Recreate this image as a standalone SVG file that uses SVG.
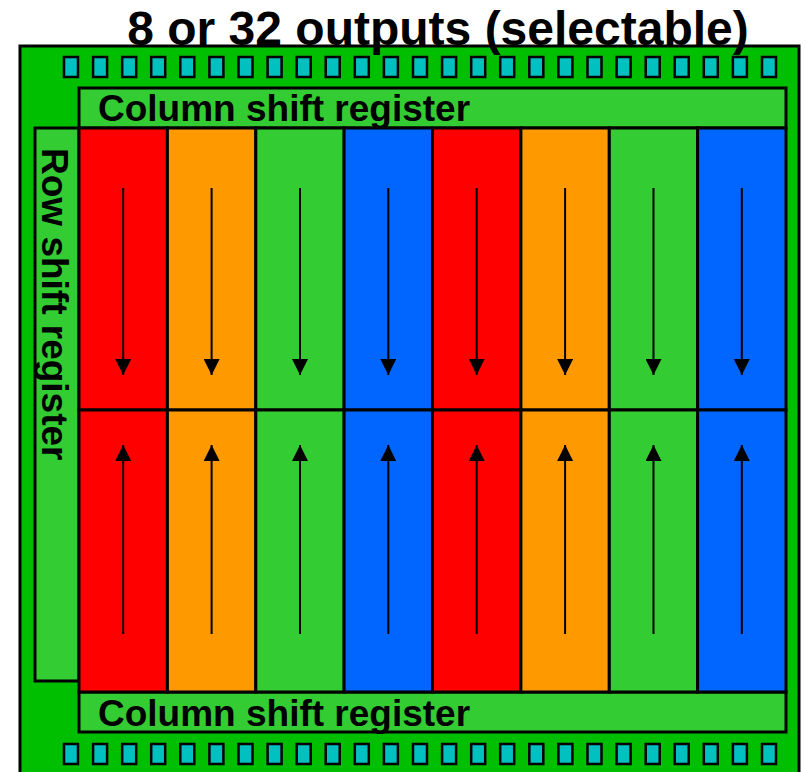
<svg xmlns="http://www.w3.org/2000/svg" width="806" height="772" viewBox="0 0 806 772">
<style>
.lbl{font-family:"Liberation Sans",Arial,sans-serif;font-weight:bold;fill:#000}
.pin{fill:#00C0C0;stroke:#000;stroke-width:2.5}
.reg{fill:#33CC33;stroke:#000;stroke-width:3}
.cell{stroke:#000;stroke-width:3}
.r{fill:#FF0000}.o{fill:#FF9900}.g{fill:#33CC33}.b{fill:#0066FF}
.arr{stroke:#000;stroke-width:2;fill:none;marker-end:url(#ah)}
</style>
<defs>
<marker id="ah" viewBox="0 0 10 10" refX="10" refY="5" markerWidth="8" markerHeight="8" markerUnits="strokeWidth" orient="auto">
<path d="M0,0 L10,5 L0,10 z" fill="#000"/>
</marker>
<rect id="p" class="pin" width="14" height="20"/>
</defs>
<rect width="806" height="772" fill="#fff"/>
<g id="chip">
<rect x="20" y="46" width="779" height="740" fill="#00BF00" stroke="#000" stroke-width="3"/>
</g>
<g id="title"><text class="lbl" x="438" y="45" font-size="48" text-anchor="middle">8 or 32 outputs (selectable)</text></g>
<g id="pins-top">
<use href="#p" x="64" y="57"/><use href="#p" x="93.1" y="57"/><use href="#p" x="122.2" y="57"/><use href="#p" x="151.2" y="57"/><use href="#p" x="180.3" y="57"/><use href="#p" x="209.4" y="57"/><use href="#p" x="238.5" y="57"/><use href="#p" x="267.6" y="57"/><use href="#p" x="296.7" y="57"/><use href="#p" x="325.7" y="57"/><use href="#p" x="354.8" y="57"/><use href="#p" x="383.9" y="57"/><use href="#p" x="413" y="57"/><use href="#p" x="442.1" y="57"/><use href="#p" x="471.2" y="57"/><use href="#p" x="500.2" y="57"/><use href="#p" x="529.3" y="57"/><use href="#p" x="558.4" y="57"/><use href="#p" x="587.5" y="57"/><use href="#p" x="616.6" y="57"/><use href="#p" x="645.7" y="57"/><use href="#p" x="674.7" y="57"/><use href="#p" x="703.8" y="57"/><use href="#p" x="732.9" y="57"/><use href="#p" x="762" y="57"/>
</g>
<g id="pins-bottom">
<use href="#p" x="64" y="744"/><use href="#p" x="93.1" y="744"/><use href="#p" x="122.2" y="744"/><use href="#p" x="151.2" y="744"/><use href="#p" x="180.3" y="744"/><use href="#p" x="209.4" y="744"/><use href="#p" x="238.5" y="744"/><use href="#p" x="267.6" y="744"/><use href="#p" x="296.7" y="744"/><use href="#p" x="325.7" y="744"/><use href="#p" x="354.8" y="744"/><use href="#p" x="383.9" y="744"/><use href="#p" x="413" y="744"/><use href="#p" x="442.1" y="744"/><use href="#p" x="471.2" y="744"/><use href="#p" x="500.2" y="744"/><use href="#p" x="529.3" y="744"/><use href="#p" x="558.4" y="744"/><use href="#p" x="587.5" y="744"/><use href="#p" x="616.6" y="744"/><use href="#p" x="645.7" y="744"/><use href="#p" x="674.7" y="744"/><use href="#p" x="703.8" y="744"/><use href="#p" x="732.9" y="744"/><use href="#p" x="762" y="744"/>
</g>
<g id="row-shift-register">
<rect x="35" y="128" width="44" height="553" class="reg" stroke-width="2.5"/>
<text class="lbl" font-size="37" transform="translate(42,148) rotate(90)">Row shift register</text>
</g>
<g id="column-shift-register-top">
<rect x="79" y="88" width="707" height="40" class="reg"/>
<text class="lbl" x="98" y="121" font-size="37">Column shift register</text>
</g>
<g id="column-shift-register-bottom">
<rect x="79" y="692" width="707" height="40" class="reg"/>
<text class="lbl" x="98" y="726" font-size="37">Column shift register</text>
</g>
<g id="array">
<rect class="cell r" x="79" y="128" width="88.4" height="282"/>
<rect class="cell o" x="167.4" y="128" width="88.4" height="282"/>
<rect class="cell g" x="255.8" y="128" width="88.4" height="282"/>
<rect class="cell b" x="344.1" y="128" width="88.4" height="282"/>
<rect class="cell r" x="432.5" y="128" width="88.4" height="282"/>
<rect class="cell o" x="520.9" y="128" width="88.4" height="282"/>
<rect class="cell g" x="609.3" y="128" width="88.4" height="282"/>
<rect class="cell b" x="697.6" y="128" width="88.4" height="282"/>
<rect class="cell r" x="79" y="410" width="88.4" height="282"/>
<rect class="cell o" x="167.4" y="410" width="88.4" height="282"/>
<rect class="cell g" x="255.8" y="410" width="88.4" height="282"/>
<rect class="cell b" x="344.1" y="410" width="88.4" height="282"/>
<rect class="cell r" x="432.5" y="410" width="88.4" height="282"/>
<rect class="cell o" x="520.9" y="410" width="88.4" height="282"/>
<rect class="cell g" x="609.3" y="410" width="88.4" height="282"/>
<rect class="cell b" x="697.6" y="410" width="88.4" height="282"/>
</g>
<g id="connectors">
<line class="arr" x1="123.2" y1="188" x2="123.2" y2="375"/>
<line class="arr" x1="211.6" y1="188" x2="211.6" y2="375"/>
<line class="arr" x1="300" y1="188" x2="300" y2="375"/>
<line class="arr" x1="388.3" y1="188" x2="388.3" y2="375"/>
<line class="arr" x1="476.7" y1="188" x2="476.7" y2="375"/>
<line class="arr" x1="565.1" y1="188" x2="565.1" y2="375"/>
<line class="arr" x1="653.5" y1="188" x2="653.5" y2="375"/>
<line class="arr" x1="741.8" y1="188" x2="741.8" y2="375"/>
<line class="arr" x1="123.2" y1="634" x2="123.2" y2="445"/>
<line class="arr" x1="211.6" y1="634" x2="211.6" y2="445"/>
<line class="arr" x1="300" y1="634" x2="300" y2="445"/>
<line class="arr" x1="388.3" y1="634" x2="388.3" y2="445"/>
<line class="arr" x1="476.7" y1="634" x2="476.7" y2="445"/>
<line class="arr" x1="565.1" y1="634" x2="565.1" y2="445"/>
<line class="arr" x1="653.5" y1="634" x2="653.5" y2="445"/>
<line class="arr" x1="741.8" y1="634" x2="741.8" y2="445"/>
</g>
</svg>
